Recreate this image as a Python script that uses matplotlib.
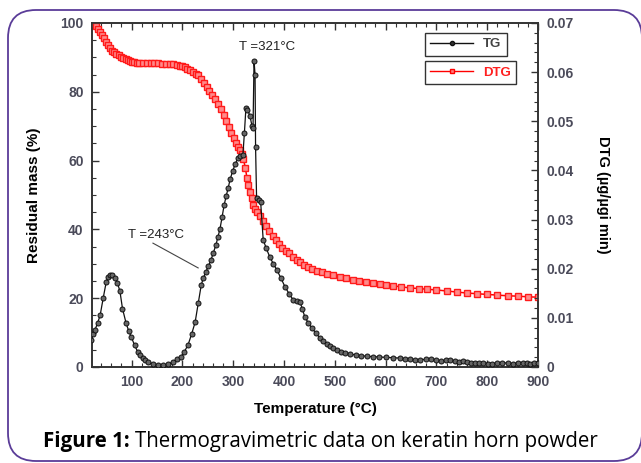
import matplotlib
matplotlib.use("Agg")
import matplotlib.pyplot as plt
from matplotlib.patches import FancyBboxPatch
from matplotlib.transforms import IdentityTransform
from matplotlib.ticker import MultipleLocator
from matplotlib.lines import Line2D

plt.rcParams['font.family'] = ['Liberation Sans', 'DejaVu Sans']

# TG series (black, read on right axis, DTG units; values read as % of left scale)
tg_temp = [20, 24, 28, 33, 38, 44, 50, 54, 57, 62, 67, 72, 77, 82, 89, 94, 99, 106, 112, 117, 122,
           127, 132, 142, 152, 162, 172, 182, 190, 197, 204, 211, 218, 225, 231, 237, 241, 246, 251,
           256, 261, 266, 270, 274, 278, 282, 286, 290, 294, 299, 304, 309, 314, 319, 322, 325, 328,
           333, 337, 339, 341, 343, 344, 346, 350, 354, 359, 365, 372, 379, 386, 394, 402, 410, 418,
           425, 431, 436, 441, 448, 455, 463, 471, 477, 484, 490, 497, 505, 513, 521, 530, 541, 552,
           563, 575, 587, 600, 614, 628, 638, 648, 658, 668, 679, 690, 700, 710, 718, 727, 736, 745,
           752, 760, 768, 775, 784, 792, 801, 810, 820, 830, 840, 850, 860, 870, 878, 885, 893, 900]
tg_pct = [7.8, 9.5, 10.8, 12.8, 15, 20, 24.7, 26.3, 26.7, 26.8, 26, 24.5, 22, 17, 12.8, 10.6, 8.8,
          6.3, 4.4, 3.4, 2.6, 1.9, 1.4, 0.8, 0.5, 0.5, 0.8, 1.5, 2.2, 3, 4.5, 6.4, 9.5, 13, 18.5,
          23.8, 25.8, 27.6, 29.3, 31, 33.2, 35.5, 37.8, 40.2, 43.5, 47, 49.6, 52, 54.6, 57, 59,
          60.7, 61.2, 61.6, 68, 75.3, 74.8, 73, 70, 69.5, 89, 85, 64, 49, 48.5, 48, 37, 34.5, 32,
          30, 28.2, 25.8, 23.3, 21.3, 19.5, 19.2, 19, 17, 14.5, 12.8, 11.3, 9.8, 8.4, 7.6, 6.8, 6.1,
          5.5, 5.0, 4.5, 4.1, 3.8, 3.5, 3.3, 3.1, 3, 2.9, 2.8, 2.7, 2.6, 2.4, 2.3, 2.1, 2, 2.3,
          2.2, 1.9, 1.8, 1.9, 2, 1.7, 1.5, 1.6, 1.4, 1.3, 1.3, 1.1, 1.2, 1.0, 1.0, 1.1, 1.3, 1.1,
          1.0, 1.1, 1.2, 1.3, 1.0, 1.1, 1.2]
tg_dtg = [v * 0.0007 for v in tg_pct]

# DTG series (red, read on left axis, residual mass %)
dtg_temp = [22, 26, 30, 34, 38, 42, 46, 50, 53, 58, 62, 66, 70, 75, 79, 84, 88, 92, 96, 101, 105,
            110, 115, 122, 130, 138, 145, 152, 160, 168, 175, 182, 190, 195, 200, 205, 210, 215,
            220, 226, 231, 237, 242, 248, 253, 259, 264, 270, 275, 281, 286, 291, 296, 301, 306,
            310, 313, 317, 320, 324, 327, 330, 333, 336, 339, 342, 346, 352, 358, 365, 371, 378,
            384, 390, 396, 403, 410, 418, 425, 432, 440, 448, 456, 465, 475, 485, 497, 510, 522,
            535, 548, 562, 575, 588, 600, 615, 630, 648, 665, 682, 700, 720, 740, 760, 780, 800,
            820, 840, 860, 880, 900]
dtg_mass = [100, 99.6, 99, 98.3, 97.5, 96.5, 95.5, 94.5, 93.6, 92.7, 92, 91.5, 91, 90.6, 90.2, 89.8,
            89.4, 89.1, 88.9, 88.7, 88.6, 88.5, 88.4, 88.35, 88.3, 88.3, 88.3, 88.25, 88.2, 88.15,
            88.1, 88.0, 87.8, 87.6, 87.4, 87.1, 86.7, 86.3, 85.8, 85.3, 84.8, 83.6, 82.5, 81.4,
            80.3, 79.2, 78, 76.5, 75, 73.2, 71.5, 69.8, 68, 66.5, 65, 64, 63, 61.8, 60.5, 57.8, 55,
            53, 51, 49, 47, 46, 45, 43.8, 42.5, 41, 39.5, 38, 36.8, 35.7, 34.7, 33.8, 33, 32, 31.2,
            30.5, 29.6, 29, 28.5, 28, 27.5, 27.1, 26.6, 26.2, 25.8, 25.4, 25.1, 24.7, 24.4, 24.1,
            23.9, 23.6, 23.3, 23.0, 22.8, 22.6, 22.4, 22.1, 21.8, 21.5, 21.3, 21.1, 20.9, 20.7,
            20.6, 20.4, 20.3]

left_ticks = [0, 20, 40, 60, 80, 100]
right_ticks = [0, 0.01, 0.02, 0.03, 0.04, 0.05, 0.06, 0.07]
x_ticks = [100, 200, 300, 400, 500, 600, 700, 800, 900]

tick_color = '#4b4b5a'

fig = plt.figure(figsize=(6.41, 4.63), dpi=100)
ax = fig.add_axes([92/641, 1-367/463, (538-92)/641, (367-23)/463])
ax2 = ax.twinx()

ax.plot(dtg_temp, dtg_mass, color='#ff0000', lw=1.1, marker='s', ms=3.9,
        mfc='#ff8a8a', mec='#ff1a1a', mew=1.0, zorder=3)
ax2.plot(tg_temp, tg_dtg, color='#111111', lw=0.9, marker='o', ms=3.6,
         mfc='#666666', mec='#111111', mew=0.7, zorder=3)

ax.set_xlim(22, 900)
ax.set_ylim(0, 100)
ax2.set_ylim(0, 0.07)

ax.set_xticks(x_ticks)
ax.set_yticks(left_ticks)
ax2.set_yticks(right_ticks)
ax2.set_yticklabels(['0'] + ['%.2f' % t for t in right_ticks[1:]])
ax.xaxis.set_minor_locator(MultipleLocator(20))
ax.yaxis.set_minor_locator(MultipleLocator(5))
ax2.yaxis.set_minor_locator(MultipleLocator(0.002))

ax.tick_params(axis='x', which='both', direction='in', top=True, bottom=True)
ax.tick_params(axis='y', which='both', direction='in', left=True, right=False)
ax2.tick_params(axis='y', which='both', direction='in', right=True)
for a in (ax, ax2):
    a.tick_params(which='major', length=5, width=1.0, color='#333333', labelsize=10,
                  labelcolor=tick_color, pad=6)
    a.tick_params(which='minor', length=3, width=0.8, color='#333333')
    for lbl in a.get_xticklabels() + a.get_yticklabels():
        lbl.set_fontweight('bold')
    for s in a.spines.values():
        s.set_linewidth(1.2)
        s.set_color('#333333')

ax.set_xlabel('Temperature (°C)', fontsize=11, fontweight='bold', labelpad=9)
ax.set_ylabel('Residual mass (%)', fontsize=11, fontweight='bold', labelpad=14)
ax2.set_ylabel('DTG (µg/µgi min)', fontsize=10.5, fontweight='bold', rotation=270, labelpad=26)

ax.text(366, 93, 'T =321°C', fontsize=9.5, color='#222222', ha='center', va='center')
ax.text(148, 38.4, 'T =243°C', fontsize=9.5, color='#222222', ha='center', va='center')
ax.plot([142, 231], [36, 28.8], color='#444444', lw=0.8)

# Two separate legend boxes
h_tg = Line2D([], [], color='#111111', lw=1.0, marker='o', ms=3, mfc='#333333', mec='#111111')
h_dtg = Line2D([], [], color='#ff0000', lw=1.0, marker='s', ms=3.5, mfc='#ff8080', mec='#ff0000')
leg1 = ax.legend([h_tg], ['TG'], loc='upper left', bbox_to_anchor=(0.747, 0.971),
                 borderaxespad=0, fancybox=False, edgecolor='#333333', framealpha=1,
                 handlelength=3.2, borderpad=0.4, prop={'weight': 'bold', 'size': 9.5})
leg1.get_frame().set_linewidth(1.0)
for t in leg1.get_texts():
    t.set_color('#444444')
ax.add_artist(leg1)
leg2 = ax.legend([h_dtg], ['DTG'], loc='upper left', bbox_to_anchor=(0.747, 0.8895),
                 borderaxespad=0, fancybox=False, edgecolor='#333333', framealpha=1,
                 handlelength=3.2, borderpad=0.4, prop={'weight': 'bold', 'size': 9.5})
leg2.get_frame().set_linewidth(1.0)
for t in leg2.get_texts():
    t.set_color('#ff2020')

# Rounded frame
frame = FancyBboxPatch((8, 2), 634, 451, boxstyle="round,pad=0,rounding_size=28",
                       transform=IdentityTransform(), fill=False, ec='#5a3c98', lw=1.3)
fig.add_artist(frame)

# Caption
cap_y = 1 - 441/463
t1 = fig.text(43/641, cap_y, 'Figure 1:', fontsize=14.8, fontweight='bold',
              family=['Open Sans', 'DejaVu Sans'], va='center', ha='left')
fig.canvas.draw()
bb = t1.get_window_extent()
fig.text((bb.x1 + 5)/641, cap_y, 'Thermogravimetric data on keratin horn powder', fontsize=14.8,
         family=['Open Sans', 'DejaVu Sans'], va='center', ha='left')

fig.savefig('out.png', dpi=100)
